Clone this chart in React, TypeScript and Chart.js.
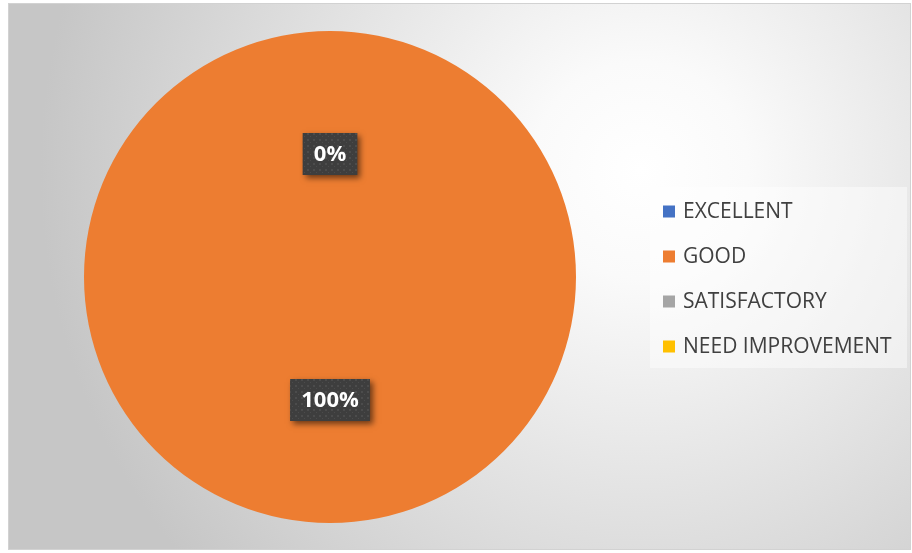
import React, { useEffect, useRef } from "react";
import { Chart, registerables } from "chart.js";

Chart.register(...registerables);

const categories = ["EXCELLENT", "GOOD", "SATISFACTORY", "NEED IMPROVEMENT"];
const values = [0, 100, 0, 0];
const sliceColors = ["#4472C4", "#ED7D31", "#A5A5A5", "#FFC000"];

const W = 912;
const H = 553;

function makePattern(ctx: CanvasRenderingContext2D): CanvasPattern | string {
  const c = document.createElement("canvas");
  c.width = 6;
  c.height = 6;
  const p = c.getContext("2d");
  if (!p) return "#404040";
  p.fillStyle = "#3e3e3e";
  p.fillRect(0, 0, 6, 6);
  p.fillStyle = "#4c4c4c";
  p.fillRect(1, 1, 2, 2);
  p.fillRect(4, 4, 1, 1);
  return ctx.createPattern(c, "repeat") || "#404040";
}

const backgroundPlugin = {
  id: "bgFrame",
  beforeDraw(chart: any) {
    const ctx: CanvasRenderingContext2D = chart.ctx;
    ctx.save();
    ctx.fillStyle = "#ffffff";
    ctx.fillRect(0, 0, W, H);
    const fx = 8, fy = 3, fw = 903, fh = 547;
    const g = ctx.createRadialGradient(640, 170, 0, 640, 170, 600);
    g.addColorStop(0, "#ffffff");
    g.addColorStop(0.18, "#fafafa");
    g.addColorStop(1, "#c6c6c6");
    ctx.fillStyle = g;
    ctx.fillRect(fx, fy, fw, fh);
    ctx.strokeStyle = "#d2d2d2";
    ctx.lineWidth = 1;
    ctx.strokeRect(fx + 0.5, fy + 0.5, fw - 1, fh - 1);
    ctx.restore();
  },
};

const labelPlugin = {
  id: "pctLabels",
  afterDatasetsDraw(chart: any) {
    const ctx: CanvasRenderingContext2D = chart.ctx;
    const meta = chart.getDatasetMeta(0);
    const data: number[] = chart.data.datasets[0].data;
    const total = data.reduce((a, b) => a + b, 0);
    const seen = new Set<string>();
    const pattern = makePattern(ctx);
    meta.data.forEach((arc: any, i: number) => {
      const p = arc.getProps(["x", "y", "startAngle", "endAngle", "outerRadius"], true);
      const mid = (p.startAngle + p.endAngle) / 2;
      const r = p.outerRadius * 0.5;
      const cx = p.x + Math.cos(mid) * r;
      const cy = p.y + Math.sin(mid) * r;
      const key = Math.round(cx) + "," + Math.round(cy);
      if (seen.has(key)) return;
      seen.add(key);
      const text = Math.round((data[i] / total) * 100) + "%";
      ctx.save();
      ctx.font = "bold 22px 'Open Sans'";
      const tw = ctx.measureText(text).width;
      const bw = tw + 22;
      const bh = 42;
      const bx = cx - bw / 2;
      const by = cy - bh / 2;
      ctx.shadowColor = "rgba(0,0,0,0.55)";
      ctx.shadowBlur = 6;
      ctx.shadowOffsetX = 3;
      ctx.shadowOffsetY = 3;
      ctx.fillStyle = "#404040";
      ctx.fillRect(bx, by, bw, bh);
      ctx.shadowColor = "transparent";
      ctx.fillStyle = pattern as any;
      ctx.fillRect(bx, by, bw, bh);
      ctx.fillStyle = "#ffffff";
      ctx.textAlign = "center";
      ctx.textBaseline = "middle";
      ctx.fillText(text, cx, cy + 1);
      ctx.restore();
    });
  },
};

const legendPlugin = {
  id: "sideLegend",
  afterDraw(chart: any) {
    const ctx: CanvasRenderingContext2D = chart.ctx;
    const labels: string[] = chart.data.labels;
    const colors: string[] = chart.data.datasets[0].backgroundColor;
    ctx.save();
    ctx.fillStyle = "rgba(255,255,255,0.45)";
    ctx.fillRect(650, 187, 257, 181);
    ctx.font = "21px 'Open Sans'";
    ctx.textBaseline = "middle";
    ctx.textAlign = "left";
    labels.forEach((lab, i) => {
      const y = 211.5 + i * 45;
      ctx.fillStyle = colors[i];
      ctx.fillRect(663, y - 6, 12, 12);
      ctx.fillStyle = "#404040";
      ctx.fillText(lab, 683, y + 1);
    });
    ctx.restore();
  },
};

export default function App() {
  const ref = useRef<HTMLCanvasElement | null>(null);
  useEffect(() => {
    document.body.style.margin = "0";
    if (!ref.current) return;
    const chart = new Chart(ref.current, {
      type: "pie",
      data: {
        labels: categories,
        datasets: [
          {
            data: values,
            backgroundColor: sliceColors,
            borderWidth: 0,
          },
        ],
      },
      options: {
        animation: false,
        responsive: false,
        devicePixelRatio: 1,
        layout: { padding: { left: 84, right: 336, top: 31, bottom: 30 } },
        plugins: {
          legend: { display: false },
          tooltip: { enabled: false },
        },
      },
      plugins: [backgroundPlugin, labelPlugin, legendPlugin],
    });
    return () => chart.destroy();
  }, []);
  return (
    <div style={{ position: "fixed", left: 0, top: 0, width: W, height: H }}>
      <canvas ref={ref} width={W} height={H} style={{ width: W, height: H, display: "block" }} />
    </div>
  );
}
